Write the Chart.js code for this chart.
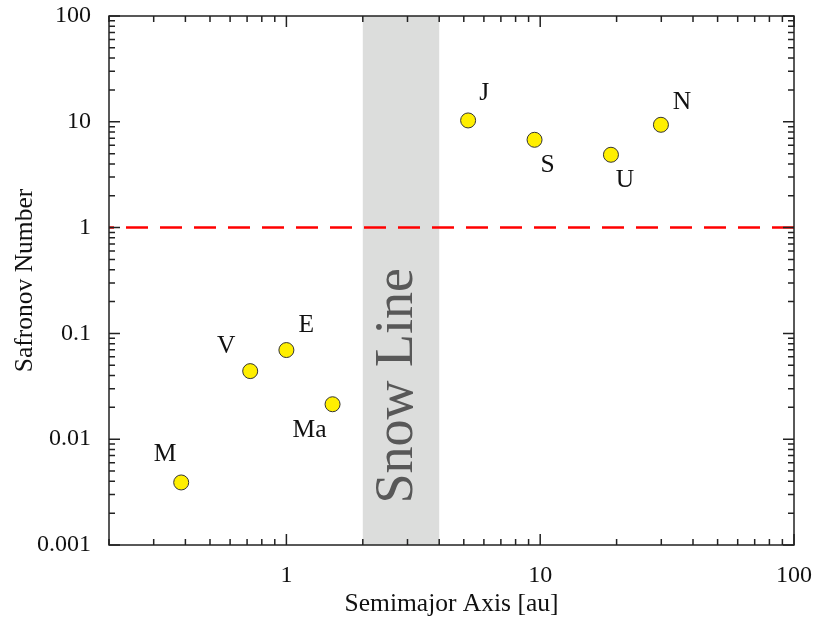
<!DOCTYPE html>
<html>
<head>
<meta charset="utf-8">
<script src="https://cdn.jsdelivr.net/npm/chart.js@4/dist/chart.umd.min.js"></script>
<style>
  html, body { margin: 0; padding: 0; background: #fff; }
  canvas { display: block; }
</style>
</head>
<body>
<canvas id="c" width="816" height="627"></canvas>
<script>
// ---- data ----
const planetLabels = ['M', 'V', 'E', 'Ma', 'J', 'S', 'U', 'N'];
const semimajorAxis = [0.385, 0.72, 1.0, 1.52, 5.2, 9.5, 19.0, 29.9];
const safronovNumber = [0.0039, 0.044, 0.0696, 0.0214, 10.3, 6.76, 4.88, 9.37];
const snowLineRange = [2, 4];
const thresholdValue = 1;
const xRange = [0.2, 100];
const yRange = [0.001, 100];
const xTickValues = [1, 10, 100];
const xTickLabels = ['1', '10', '100'];
const yTickValues = [0.001, 0.01, 0.1, 1, 10, 100];
const yTickLabels = ['0.001', '0.01', '0.1', '1', '10', '100'];
const snowLineText = 'Snow Line';
const xTitle = 'Semimajor Axis [au]';
const yTitle = 'Safronov Number';

// ---- style ----
const FONT = '"Liberation Serif", "Times New Roman", Times, serif';
const labelOffsets = [[-16, -28], [-24, -25], [20, -25], [-23, 26], [16, -27], [13, 26], [14, 26], [21, -22]];
const snowTextY = 0.032; // vertical centre of the rotated label, in data units

const points = semimajorAxis.map((x, i) => ({ x, y: safronovNumber[i] }));
const thresholdLine = [{ x: xRange[0], y: thresholdValue }, { x: xRange[1], y: thresholdValue }];

function minorValues(min, max) {
  const out = [];
  for (let e = Math.floor(Math.log10(min)); e <= Math.ceil(Math.log10(max)); e++) {
    for (let m = 1; m <= 9; m++) {
      const v = m * Math.pow(10, e);
      if (v >= min * 0.999 && v <= max * 1.001) out.push({ v, major: m === 1 });
    }
  }
  return out;
}

const decorPlugin = {
  id: 'decor',
  beforeDatasetsDraw(chart) {
    const { ctx, chartArea: a, scales: { x, y } } = chart;
    ctx.save();
    const x0 = x.getPixelForValue(snowLineRange[0]);
    const x1 = x.getPixelForValue(snowLineRange[1]);
    ctx.fillStyle = '#dcdddc';
    ctx.fillRect(x0, a.top, x1 - x0, a.bottom - a.top);
    const cx = x.getPixelForValue(Math.sqrt(snowLineRange[0] * snowLineRange[1])) - 3;
    const cy = y.getPixelForValue(snowTextY);
    ctx.translate(cx, cy);
    ctx.rotate(-Math.PI / 2);
    ctx.font = '54px ' + FONT;
    ctx.fillStyle = '#585858';
    ctx.textAlign = 'center';
    ctx.textBaseline = 'middle';
    ctx.fillText(snowLineText, 0, 0);
    ctx.restore();
  },
  afterDatasetsDraw(chart) {
    const { ctx, chartArea: a, scales: { x, y } } = chart;
    ctx.save();
    ctx.strokeStyle = '#222';
    ctx.lineWidth = 1.5;
    ctx.strokeRect(a.left, a.top, a.right - a.left, a.bottom - a.top);
    ctx.beginPath();
    minorValues(xRange[0], xRange[1]).forEach(t => {
      const px = x.getPixelForValue(t.v);
      const len = t.major ? 11 : 6;
      ctx.moveTo(px, a.bottom); ctx.lineTo(px, a.bottom - len);
      ctx.moveTo(px, a.top); ctx.lineTo(px, a.top + len);
    });
    minorValues(yRange[0], yRange[1]).forEach(t => {
      const py = y.getPixelForValue(t.v);
      const len = t.major ? 11 : 6;
      ctx.moveTo(a.left, py); ctx.lineTo(a.left + len, py);
      ctx.moveTo(a.right, py); ctx.lineTo(a.right - len, py);
    });
    ctx.stroke();
    ctx.font = '25.5px ' + FONT;
    ctx.fillStyle = '#111';
    ctx.textAlign = 'center';
    ctx.textBaseline = 'middle';
    planetLabels.forEach((lab, i) => {
      const px = x.getPixelForValue(semimajorAxis[i]) + labelOffsets[i][0];
      const py = y.getPixelForValue(safronovNumber[i]) + labelOffsets[i][1];
      ctx.fillText(lab, px, py);
    });
    ctx.restore();
  }
};

function build() {
  new Chart(document.getElementById('c'), {
    type: 'scatter',
    data: {
      datasets: [
        {
          label: 'Planets',
          data: points,
          pointRadius: 7.5,
          pointHoverRadius: 7.5,
          backgroundColor: '#ffef00',
          borderColor: '#333',
          borderWidth: 1
        },
        {
          type: 'line',
          label: 'Threshold',
          data: thresholdLine,
          borderColor: '#ff0000',
          borderWidth: 2.5,
          borderDash: [22, 12],
          borderDashOffset: 17,
          pointRadius: 0,
          fill: false
        }
      ]
    },
    options: {
      responsive: false,
      animation: false,
      events: [],
      layout: { padding: { top: 16, right: 22, bottom: 0, left: 0 } },
      plugins: { legend: { display: false }, tooltip: { enabled: false } },
      scales: {
        x: {
          type: 'logarithmic',
          position: 'bottom',
          min: xRange[0],
          max: xRange[1],
          grid: { display: false, drawTicks: false },
          border: { display: false },
          afterBuildTicks: s => { s.ticks = xTickValues.map(v => ({ value: v })); },
          afterFit: s => { s.height = 82; s.paddingLeft = 0; s.paddingRight = 0; },
          ticks: {
            autoSkip: false,
            maxRotation: 0,
            padding: 16,
            color: '#111',
            font: { family: FONT, size: 24 },
            callback: (v, i) => xTickLabels[i]
          },
          title: {
            display: true,
            text: xTitle,
            color: '#111',
            font: { family: FONT, size: 25.5 },
            padding: { top: 0, bottom: 7 }
          }
        },
        y: {
          type: 'logarithmic',
          position: 'left',
          min: yRange[0],
          max: yRange[1],
          grid: { display: false, drawTicks: false },
          border: { display: false },
          afterBuildTicks: s => { s.ticks = yTickValues.map(v => ({ value: v })); },
          afterFit: s => { s.width = 109; s.paddingTop = 0; s.paddingBottom = 0; },
          ticks: {
            autoSkip: false,
            padding: 18,
            color: '#111',
            font: { family: FONT, size: 24 },
            callback: (v, i) => yTickLabels[i]
          },
          title: {
            display: true,
            text: yTitle,
            color: '#111',
            font: { family: FONT, size: 25.5 },
            padding: { top: 10, bottom: 0 }
          }
        }
      }
    },
    plugins: [decorPlugin]
  });
}

if (document.fonts && document.fonts.load) {
  Promise.all([
    document.fonts.load('24px "Liberation Serif"'),
    document.fonts.load('54px "Liberation Serif"')
  ]).then(build, build);
} else {
  build();
}
</script>
</body>
</html>
